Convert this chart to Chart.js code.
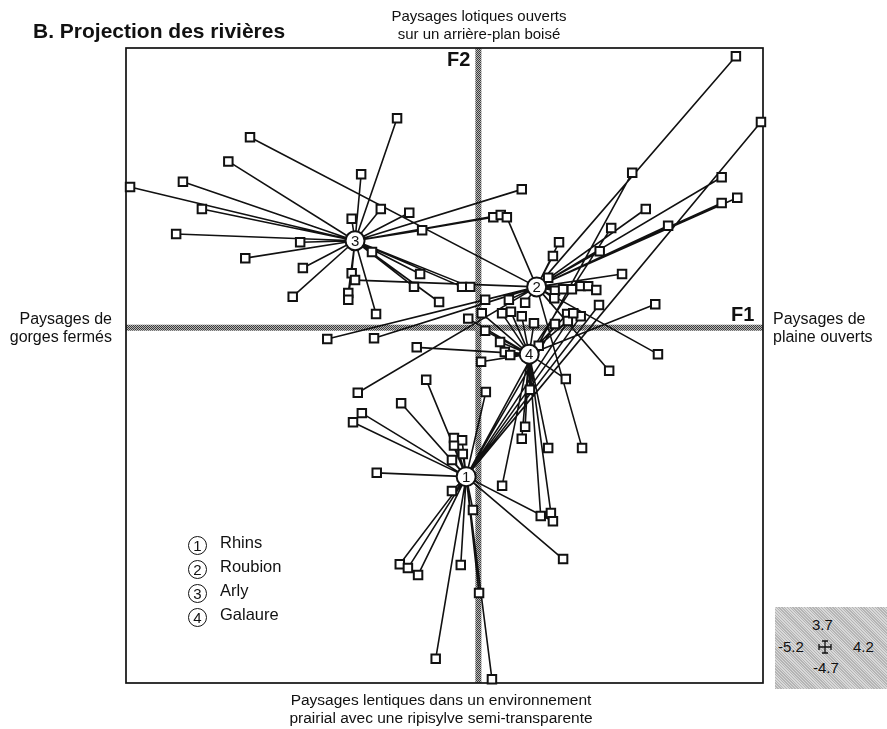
<!DOCTYPE html>
<html>
<head>
<meta charset="utf-8">
<script src="https://cdn.jsdelivr.net/npm/chart.js@4.4.0/dist/chart.umd.min.js"></script>
<style>
body{margin:0;background:#fff;font-family:"Liberation Sans",Arial,Helvetica,sans-serif;color:#111;}
#wrap{position:relative;width:887px;height:729px;overflow:hidden;}
canvas{position:absolute;left:0;top:0;}
.t{position:absolute;font-size:15px;line-height:18px;white-space:nowrap;}
.c{text-align:center;}
.b{font-weight:bold;}
.leg{position:absolute;left:188px;font-size:16.5px;line-height:18px;white-space:nowrap;}
.leg span{display:inline-block;width:17px;height:17px;border:1.6px solid #111;border-radius:50%;font-size:15px;line-height:17px;text-align:center;margin-right:13px;vertical-align:-3px;}
#echelle{position:absolute;left:775px;top:607px;width:112px;height:82px;background:repeating-linear-gradient(45deg,#b5b5b5 0 1px,#d8d8d8 1px 2px);font-size:15px;}
#echelle div{position:absolute;line-height:16px;}
</style>
</head>
<body>
<div id="wrap">
  <canvas id="chartRivieres" width="887" height="729"></canvas>
  <div class="t b" style="left:33px;top:19px;font-size:21px;line-height:24px;">B. Projection des rivières</div>
  <div class="t c" style="left:329px;width:300px;top:7px;">Paysages lotiques ouverts<br>sur un arrière-plan boisé</div>
  <div class="t" style="right:775px;top:310px;text-align:right;font-size:16px;">Paysages de<br>gorges fermés</div>
  <div class="t" style="left:773px;top:310px;font-size:16px;">Paysages de<br>plaine ouverts</div>
  <div class="t c" style="left:241px;width:400px;top:691px;font-size:15.5px;">Paysages lentiques dans un environnement<br>prairial avec une ripisylve semi-transparente</div>
  <div class="t b" style="left:447px;top:48px;font-size:20px;line-height:22px;">F2</div>
  <div class="t b" style="left:731px;top:303px;font-size:20px;line-height:22px;">F1</div>
  <div class="leg" style="top:533px;"><span>1</span>Rhins</div>
  <div class="leg" style="top:557px;"><span>2</span>Roubion</div>
  <div class="leg" style="top:581px;"><span>3</span>Arly</div>
  <div class="leg" style="top:605px;"><span>4</span>Galaure</div>
  <div id="echelle">
    <div style="left:37px;top:10px;">3.7</div>
    <div style="left:3px;top:32px;">-5.2</div>
    <div style="left:78px;top:32px;">4.2</div>
    <div style="left:38px;top:53px;">-4.7</div>
    <svg style="position:absolute;left:42px;top:32px;" width="16" height="16" viewBox="0 0 16 16">
      <path d="M8 2V14M2 8H14M5 2H11M5 14H11M2 5V11M14 5V11" stroke="#111" stroke-width="1.3" fill="none"/>
    </svg>
  </div>
</div>
<script>
var rivieres = ["Rhins","Roubion","Arly","Galaure"];
var centreX = [-0.18, 0.86, -1.82, 0.75];
var centreY = [-1.97, 0.54, 1.15, -0.35];

var rhinsX = [4.17, 2.27, -0.77, -1.14, -1.72, -1.85, -0.36, -0.24, -0.36, -0.23, -0.39, -1.50, -0.39, -0.08, 1.10, -1.16, -1.04, -0.89, -0.26, 0.01, -0.63, 0.20, 1.25, 0.11, 1.51, 1.40, 1.78, 1.13];
var rhinsY = [2.72, 2.05, -0.69, -1.00, -1.13, -1.25, -1.46, -1.49, -1.56, -1.67, -1.75, -1.92, -2.16, -2.41, -2.56, -3.13, -3.18, -3.27, -3.14, -3.51, -4.38, -4.65, -3.06, -0.85, 0.15, 0.19, 0.30, 0.05];

var roubionX = [-3.37, -1.82, 0.42, 3.80, 3.59, 3.82, 3.59, 2.47, 2.80, 1.19, 1.79, 1.10, 1.03, 2.12, 1.13, 1.25, 1.38, 1.51, 1.62, 1.74, 0.10, 0.45, -2.23, -1.54, -1.78, 2.65, 1.93, 1.53, 0.69, 1.12];
var roubionY = [2.52, 0.63, 1.46, 3.59, 1.99, 1.72, 1.65, 1.57, 1.35, 1.13, 1.01, 0.95, 0.66, 0.71, 0.49, 0.51, 0.51, 0.55, 0.55, 0.50, 0.37, 0.37, -0.15, -0.14, -0.86, -0.35, -0.57, -1.59, 0.33, 0.39];

var arlyX = [-3.69, -4.36, -5.14, -4.08, -4.46, -2.63, -3.44, -2.59, -2.74, -1.20, -1.73, -1.44, -1.02, -1.87, -0.83, 0.22, 0.33, 0.64, -1.57, -1.87, -1.92, -1.92, -1.51, -0.86, -0.95, -0.58, -0.24, -0.12];
var arlyY = [2.20, 1.93, 1.86, 1.57, 1.24, 1.13, 0.92, 0.79, 0.41, 2.77, 2.03, 1.57, 1.52, 1.44, 1.29, 1.46, 1.49, 1.83, 1.00, 0.72, 0.46, 0.37, 0.18, 0.71, 0.54, 0.34, 0.54, 0.54];

var galaureX = [0.05, -0.15, 0.35, 0.48, 0.64, 0.82, 1.31, 1.32, 0.10, 0.32, 0.39, 0.47, 0.04, -0.91, 0.76, 0.69, 0.64, 1.03, 1.29, 2.61, 1.96, 0.35, 0.92, 1.07, 0.89];
var galaureY = [0.19, 0.12, 0.19, 0.21, 0.15, 0.06, 0.18, 0.09, -0.04, -0.19, -0.32, -0.36, -0.45, -0.26, -0.82, -1.31, -1.47, -1.59, -0.68, 0.31, 1.32, -2.09, -2.49, -2.45, -0.24];

var groupesX = [rhinsX, roubionX, arlyX, galaureX];
var groupesY = [rhinsY, roubionY, arlyY, galaureY];

function points(xs, ys){
  var p = [];
  for (var i = 0; i < xs.length; i++) p.push({x: xs[i], y: ys[i]});
  return p;
}

// motif hachure des axes F1 / F2
var hachure = document.createElement('canvas');
hachure.width = 2; hachure.height = 2;
var hg = hachure.getContext('2d');
hg.fillStyle = '#b8b8b8'; hg.fillRect(0, 0, 2, 2);
hg.fillStyle = '#3c3c3c'; hg.fillRect(0, 0, 1, 1); hg.fillRect(1, 1, 1, 1);

var etoiles = {
  id: 'etoiles',
  beforeDatasetsDraw: function(chart){
    var ctx = chart.ctx, a = chart.chartArea;
    var sx = chart.scales.x, sy = chart.scales.y;
    ctx.save();
    ctx.fillStyle = ctx.createPattern(hachure, 'repeat');
    var x0 = sx.getPixelForValue(0), y0 = sy.getPixelForValue(0);
    ctx.fillRect(x0 - 3, a.top, 6, a.bottom - a.top);
    ctx.fillRect(a.left, y0 - 3, a.right - a.left, 6);

    ctx.strokeStyle = '#111';
    ctx.lineWidth = 1.6;
    ctx.beginPath();
    for (var g = 0; g < groupesX.length; g++) {
      var cx = sx.getPixelForValue(centreX[g]), cy = sy.getPixelForValue(centreY[g]);
      for (var i = 0; i < groupesX[g].length; i++) {
        ctx.moveTo(cx, cy);
        ctx.lineTo(sx.getPixelForValue(groupesX[g][i]), sy.getPixelForValue(groupesY[g][i]));
      }
    }
    ctx.stroke();

    ctx.lineWidth = 1.7;
    ctx.strokeRect(a.left, a.top, a.right - a.left, a.bottom - a.top);
    ctx.restore();
  },
  afterDatasetsDraw: function(chart){
    var ctx = chart.ctx, sx = chart.scales.x, sy = chart.scales.y;
    ctx.save();
    ctx.fillStyle = '#111';
    ctx.font = '15px "Liberation Sans", Arial, sans-serif';
    ctx.textAlign = 'center';
    ctx.textBaseline = 'middle';
    for (var g = 0; g < centreX.length; g++) {
      ctx.fillText(String(g + 1), sx.getPixelForValue(centreX[g]), sy.getPixelForValue(centreY[g]) + 1);
    }
    ctx.restore();
  }
};

var jeux = [{
  label: 'centres',
  data: points(centreX, centreY),
  pointStyle: 'circle',
  pointRadius: 9.5,
  backgroundColor: '#fff',
  borderColor: '#111',
  borderWidth: 2,
  order: 0,
  clip: false
}];
for (var g = 0; g < rivieres.length; g++) {
  jeux.push({
    label: rivieres[g],
    data: points(groupesX[g], groupesY[g]),
    pointStyle: 'rect',
    pointRadius: 6,
    backgroundColor: '#fff',
    borderColor: '#111',
    borderWidth: 2,
    order: 1,
    clip: false
  });
}

var ctxRiv = document.getElementById('chartRivieres');
var chartRiv = new Chart(ctxRiv, {
  type: 'scatter',
  data: { datasets: jeux },
  options: {
    responsive: false,
    animation: false,
    events: [],
    layout: { padding: { left: 126, top: 48, right: 124, bottom: 46 } },
    scales: {
      x: { type: 'linear', min: -5.2, max: 4.2, display: false },
      y: { type: 'linear', min: -4.7, max: 3.7, display: false }
    },
    plugins: { legend: { display: false }, tooltip: { enabled: false } }
  },
  plugins: [etoiles]
});
</script>
</body>
</html>
